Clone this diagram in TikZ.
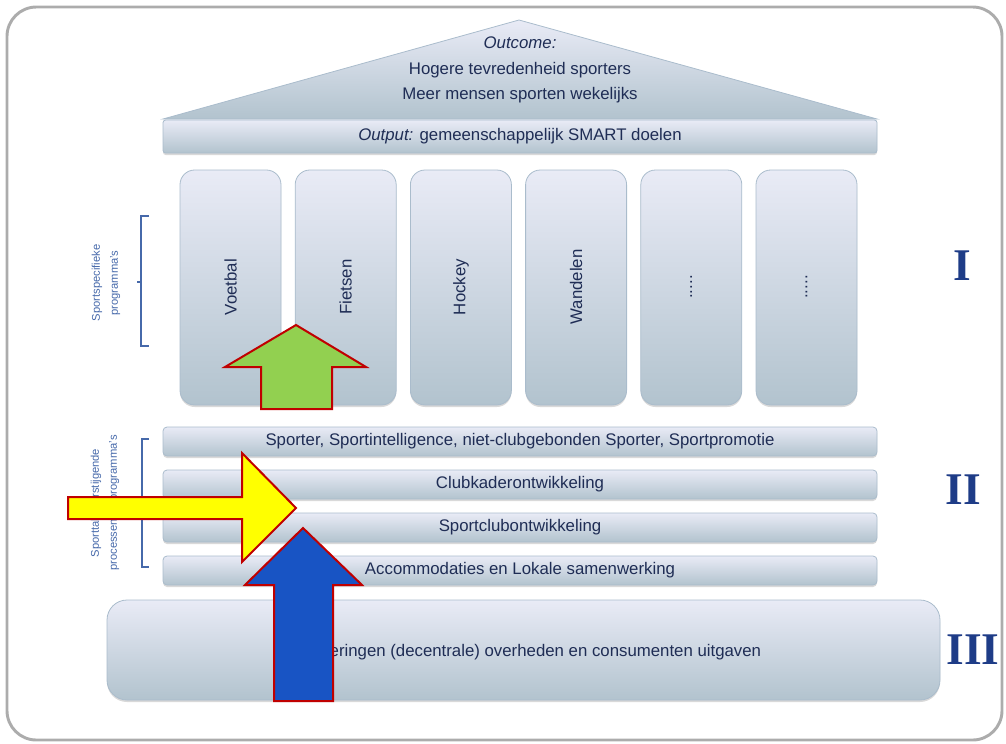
\documentclass[tikz,border=0pt]{standalone}
\usepackage{fontspec}
\setmainfont{Liberation Sans}
\newfontfamily\numfont{Liberation Serif}
\usetikzlibrary{shadows}

\definecolor{ink}{RGB}{31,45,85}
\definecolor{numblue}{RGB}{30,60,135}
\definecolor{bracket}{RGB}{70,105,170}
\definecolor{paneltop}{RGB}{233,235,246}
\definecolor{panelmid}{RGB}{199,204,230}
\definecolor{panelbot}{RGB}{178,195,206}
\definecolor{panelrim}{RGB}{170,188,204}
\definecolor{arrowrim}{RGB}{192,0,0}
\definecolor{upgreen}{RGB}{146,208,80}
\definecolor{inyellow}{RGB}{255,255,0}
\definecolor{inblue}{RGB}{24,84,196}

\newcommand\pillardots{.....}

\tikzset{
  panel/.style={draw=panelrim, line width=0.6pt,
    top color=paneltop, middle color=panelmid, bottom color=panelbot,
    drop shadow={shadow xshift=0pt, shadow yshift=-1.5pt, opacity=0.25, fill=black!60}},
  lbl/.style={text=ink, font=\fontsize{12.6}{19}\selectfont, inner sep=0pt},
  sidelbl/.style={text=bracket, font=\fontsize{8.4}{13.5}\selectfont, align=center, rotate=90, inner sep=0pt},
  numeral/.style={text=numblue, font=\numfont\bfseries\fontsize{34}{34}\selectfont, inner sep=0pt},
  blockarrow/.style={draw=arrowrim, line width=1.5pt, line join=miter}
}

\begin{document}
\begin{tikzpicture}[x=0.75pt,y=-0.75pt]
\useasboundingbox (0,0) rectangle (1006,743);
\draw[gray!65, line width=2.2pt, rounded corners=22pt] (7,7) rectangle (1002,740);

% roof
\path[draw=panelrim, line width=0.6pt, top color=paneltop, middle color=panelmid, bottom color=panelbot]
  (163,119) -- (519,20) -- (877,119) -- cycle;
\node[lbl, align=center] (outcome) at (520,70) {\textit{Outcome:}\\Hogere tevredenheid sporters\\Meer mensen sporten wekelijks};
\path[panel, rounded corners=2pt] (163,120) rectangle (877,153);
\node[lbl] (output) at (520,136) {\textit{Output:} gemeenschappelijk SMART doelen};

% level I: pillars
\foreach \name/\txt [count=\i from 0] in {voetbal/Voetbal, fietsen/Fietsen, hockey/Hockey,
    wandelen/Wandelen, extraA/\pillardots, extraB/\pillardots}{
  \path[panel, rounded corners=11pt] (180+115.2*\i,170) rectangle ++(101,235);
  \node[lbl, rotate=90] (\name) at (230.5+115.2*\i,287) {\txt};
}

% level II: bars
\foreach \name/\y/\txt in {sporter/427/{Sporter, Sportintelligence, niet-clubgebonden Sporter, Sportpromotie},
    kader/470/Clubkaderontwikkeling, club/513/Sportclubontwikkeling,
    accom/556/Accommodaties en Lokale samenwerking}{
  \path[panel, rounded corners=3pt] (163,\y) rectangle ++(714,29);
  \node[lbl] (\name) at (520,\y+14.5) {\txt};
}

% level III: base
\path[panel, rounded corners=15pt] (107,600) rectangle (940,700);
\node[lbl] (budget) at (523,652) {Investeringen (decentrale) overheden en consumenten uitgaven};

% numerals
\node[numeral] (lvlI) at (962,266) {I};
\node[numeral] (lvlII) at (963,490) {II};
\node[numeral] (lvlIII) at (973,650) {III};

% brackets with labels
\draw[bracket, line width=0.8pt] (149,216) -- (141,216) -- (141,346) -- (149,346);
\draw[bracket, line width=0.8pt] (141,282) -- (137,282);
\node[sidelbl] (specifiek) at (106,283) {Sportspecifieke\\programma's};
\draw[bracket, line width=0.8pt] (149,439) -- (142,439) -- (142,567) -- (149,567);
\draw[bracket, line width=0.8pt] (142,503) -- (138,503);
\node[sidelbl] (overstijgend) at (105,503) {Sporttakoverstijgende\\processen en programma's};

% block arrows
\draw[blockarrow, fill=upgreen] (261,409) -- (261,367) -- (225,367) -- (296,325)
  -- (366,367) -- (332,367) -- (332,409) -- cycle;
\draw[blockarrow, fill=inyellow] (68,497) -- (242,497) -- (242,453) -- (296,508)
  -- (242,562) -- (242,519) -- (68,519) -- cycle;
\draw[blockarrow, fill=inblue] (274,701) -- (274,585) -- (245,585) -- (303,528)
  -- (362,585) -- (333,585) -- (333,701) -- cycle;
\end{tikzpicture}
\end{document}
